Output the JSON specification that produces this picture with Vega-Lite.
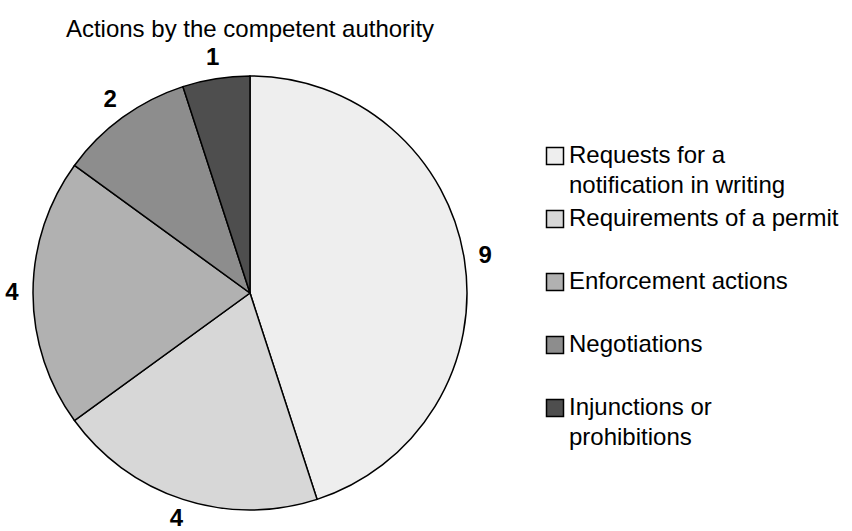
{
  "$schema": "https://vega.github.io/schema/vega-lite/v6.json",
  "width": 500,
  "height": 440,
  "autosize": "none",
  "padding": {"left": 0, "top": 73, "right": 352, "bottom": 18},
  "background": "white",
  "title": {
    "text": "Actions by the competent authority",
    "font": "Liberation Sans",
    "fontSize": 24,
    "fontWeight": "normal",
    "color": "black",
    "anchor": "middle",
    "offset": 4
  },
  "data": {
    "values": [
      {"category": "Requests for a notification in writing", "value": 9, "idx": 1},
      {"category": "Requirements of a permit", "value": 4, "idx": 2},
      {"category": "Enforcement actions", "value": 4, "idx": 3},
      {"category": "Negotiations", "value": 2, "idx": 4},
      {"category": "Injunctions or prohibitions", "value": 1, "idx": 5}
    ]
  },
  "encoding": {
    "theta": {"field": "value", "type": "quantitative", "stack": true},
    "order": {"field": "idx", "type": "quantitative"}
  },
  "layer": [
    {
      "mark": {"type": "arc", "outerRadius": 217, "stroke": "black", "strokeWidth": 1.5},
      "encoding": {
        "color": {
          "field": "category",
          "type": "nominal",
          "sort": null,
          "scale": {
            "domain": ["Requests for a notification in writing", "Requirements of a permit", "Enforcement actions", "Negotiations", "Injunctions or prohibitions"],
            "range": ["#eeeeee", "#d7d7d7", "#b1b1b1", "#8d8d8d", "#4e4e4e"]
          },
          "legend": {
            "title": null,
            "orient": "none",
            "legendX": 543,
            "legendY": 71,
            "direction": "vertical",
            "gridAlign": "all",
            "symbolType": "square",
            "symbolSize": 289,
            "symbolStrokeColor": "black",
            "symbolStrokeWidth": 1.5,
            "labelFont": "Liberation Sans",
            "labelFontSize": 24,
            "labelColor": "black",
            "labelOffset": 2,
            "labelLimit": 400,
            "rowPadding": 9,
            "padding": 0,
            "encode": {"labels": {"update": {"lineHeight": {"value": 30}}}},
            "labelExpr": "datum.label == 'Requests for a notification in writing' ? ['Requests for a', 'notification in writing'] : datum.label == 'Injunctions or prohibitions' ? ['Injunctions or', 'prohibitions'] : datum.label"
          }
        }
      }
    },
    {
      "mark": {"type": "text", "radius": 238, "font": "Liberation Sans", "fontSize": 24, "fontWeight": "bold", "color": "black"},
      "encoding": {
        "text": {"field": "value", "type": "quantitative"}
      }
    }
  ]
}
